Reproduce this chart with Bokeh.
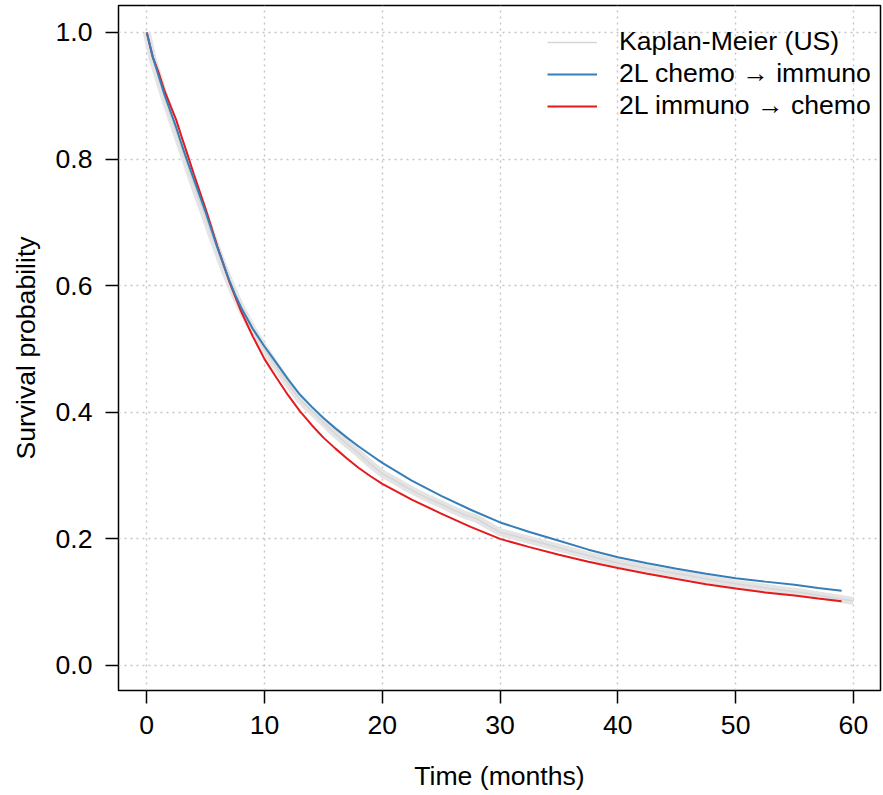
from bokeh.plotting import figure
from bokeh.models import Range1d, Legend, LegendItem, FixedTicker
from bokeh.embed import file_html
from bokeh.resources import INLINE

# ---- data ----
t_model = [0, 0.5, 1, 1.5, 2, 2.5, 3, 3.5, 4, 5, 6, 7, 7.5, 8, 9, 10, 11, 12, 13, 14, 15, 16,
           17, 18, 19, 20, 22.5, 25, 27.5, 30, 32.5, 35, 37.5, 40, 42.5, 45, 47.5, 50, 52.5, 55,
           57, 59]
surv_chemo_immuno = [1.0, 0.962, 0.932, 0.902, 0.876, 0.850, 0.821, 0.794, 0.768, 0.716, 0.660,
                     0.609, 0.586, 0.566, 0.532, 0.504, 0.478, 0.452, 0.428, 0.409, 0.391, 0.375,
                     0.360, 0.346, 0.333, 0.320, 0.292, 0.268, 0.246, 0.226, 0.211, 0.197, 0.183,
                     0.171, 0.1615, 0.153, 0.145, 0.138, 0.1325, 0.1275, 0.1225, 0.118]
surv_immuno_chemo = [1.0, 0.962, 0.937, 0.908, 0.885, 0.862, 0.833, 0.805, 0.776, 0.721, 0.662,
                     0.607, 0.583, 0.560, 0.520, 0.484, 0.455, 0.427, 0.402, 0.380, 0.360, 0.343,
                     0.327, 0.312, 0.299, 0.287, 0.262, 0.240, 0.219, 0.200, 0.187, 0.175, 0.164,
                     0.154, 0.145, 0.1365, 0.1285, 0.1215, 0.1155, 0.1105, 0.106, 0.1016]

t_km = [0, 0.5, 1, 1.5, 2, 2.5, 3, 3.5, 4, 4.5, 5, 5.5, 6, 6.5, 7, 7.5, 8, 9, 10, 11, 12, 13,
        14, 15, 16, 17, 18, 19, 20, 21, 22, 23, 24, 25, 26, 27, 28, 29, 30, 32, 34, 36, 38, 40,
        42, 44, 46, 48, 50, 52, 54, 56, 58, 60]
surv_km = [1.0, 0.958, 0.928, 0.898, 0.870, 0.843, 0.815, 0.788, 0.760, 0.734, 0.708, 0.681,
           0.655, 0.630, 0.607, 0.585, 0.565, 0.530, 0.500, 0.472, 0.445, 0.420, 0.402, 0.384,
           0.366, 0.350, 0.335, 0.318, 0.303, 0.293, 0.282, 0.272, 0.263, 0.255, 0.246, 0.238,
           0.232, 0.221, 0.2106, 0.201, 0.191, 0.181, 0.171, 0.162, 0.155, 0.148, 0.142, 0.135,
           0.129, 0.124, 0.119, 0.114, 0.108, 0.102]

x_ticks = [0, 10, 20, 30, 40, 50, 60]
y_ticks = [0.0, 0.2, 0.4, 0.6, 0.8, 1.0]
y_tick_labels = {0.0: "0.0", 0.2: "0.2", 0.4: "0.4", 0.6: "0.6", 0.8: "0.8", 1.0: "1.0"}

labels = ["Kaplan-Meier (US)", "2L chemo \u2192 immuno", "2L immuno \u2192 chemo"]
FONT = "Liberation Sans"
FS = "26.6px"

p = figure(width=883, height=795, output_backend="svg", toolbar_location=None,
           x_range=Range1d(-2.4, 62.3), y_range=Range1d(-0.0395, 1.04265),
           min_border_left=118, min_border_right=3, min_border_top=5, min_border_bottom=105)

p.outline_line_color = "black"
p.outline_line_width = 1.5
p.background_fill_color = "white"
p.border_fill_color = "white"

for ax in (p.xaxis[0], p.yaxis[0]):
    ax.axis_line_color = None
    ax.major_tick_out = 13
    ax.major_tick_in = 0
    ax.minor_tick_out = 0
    ax.minor_tick_in = 0
    ax.major_tick_line_color = "black"
    ax.major_tick_line_width = 1.5
    ax.major_label_text_font = FONT
    ax.major_label_text_font_size = FS
    ax.major_label_text_color = "black"
    ax.axis_label_text_font = FONT
    ax.axis_label_text_font_size = FS
    ax.axis_label_text_font_style = "normal"
    ax.axis_label_text_color = "black"

p.xaxis.ticker = FixedTicker(ticks=x_ticks)
p.yaxis.ticker = FixedTicker(ticks=y_ticks)
p.yaxis.major_label_overrides = y_tick_labels
p.xaxis.axis_label = "Time (months)"
p.yaxis.axis_label = "Survival probability"
p.xaxis.major_label_standoff = 12
p.yaxis.major_label_standoff = 13
p.xaxis.axis_label_standoff = 24
p.yaxis.axis_label_standoff = 12

for g in (p.xgrid[0], p.ygrid[0]):
    g.grid_line_color = "#c4c4c4"
    g.grid_line_dash = "2 4"
    g.grid_line_width = 1.4
p.xgrid.ticker = FixedTicker(ticks=x_ticks)
p.ygrid.ticker = FixedTicker(ticks=y_ticks)

km_band = p.line(t_km, surv_km, line_color="#e4e4e4", line_width=8)
km_line = p.line(t_km, surv_km, line_color="#d6d6d6", line_width=1.5)
r_red = p.line(t_model, surv_immuno_chemo, line_color="#E41A1C", line_width=2)
r_blue = p.line(t_model, surv_chemo_immuno, line_color="#377EB8", line_width=2)

legend = Legend(items=[LegendItem(label=labels[0], renderers=[km_line]),
                       LegendItem(label=labels[1], renderers=[r_blue]),
                       LegendItem(label=labels[2], renderers=[r_red])],
                location=(429, 569))
legend.border_line_color = None
legend.background_fill_alpha = 0
legend.padding = 0
legend.spacing = 1
legend.glyph_width = 50
legend.glyph_height = 20
legend.label_standoff = 22
legend.label_text_font = FONT
legend.label_text_font_size = FS
legend.label_text_color = "black"
p.add_layout(legend)

open("out.html", "w").write(file_html(p, INLINE))
